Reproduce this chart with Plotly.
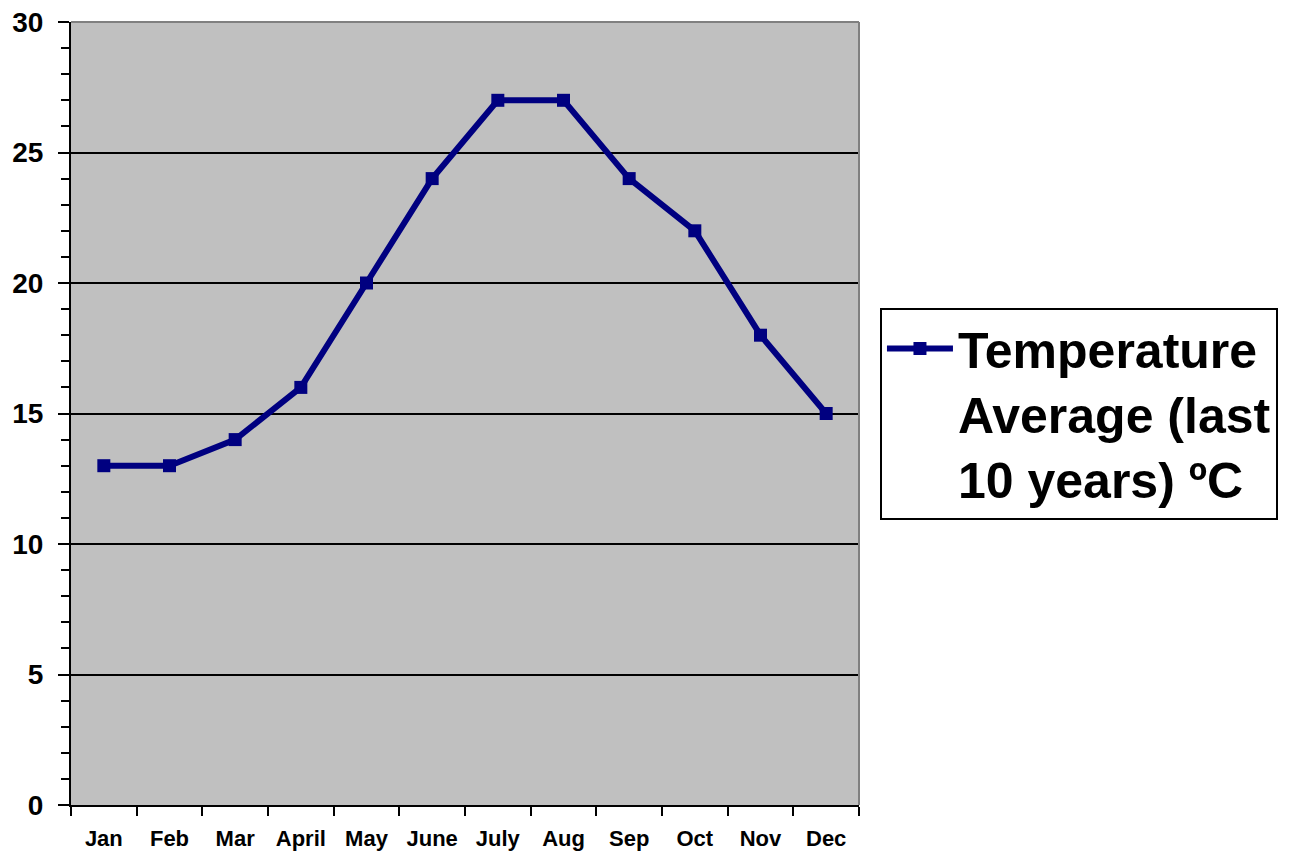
import plotly.graph_objects as go

months = ["Jan", "Feb", "Mar", "April", "May", "June", "July", "Aug", "Sep", "Oct", "Nov", "Dec"]
temps = [13, 13, 14, 16, 20, 24, 27, 27, 24, 22, 18, 15]
series_name = "Temperature<br>Average (last<br>10 years) ºC"

FONT = "Arial, Liberation Sans, sans-serif"

fig = go.Figure()
fig.add_trace(go.Scatter(
    x=months, y=temps, name=series_name, mode="lines+markers",
    line=dict(color="#000080", width=6),
    marker=dict(symbol="square", size=13, color="#000080"),
    showlegend=True,
))

fig.update_layout(
    width=1281, height=846,
    margin=dict(l=63, r=429, t=14, b=49),
    paper_bgcolor="white", plot_bgcolor="#C0C0C0",
    font=dict(family=FONT, color="black"),
    showlegend=True,
    legend=dict(
        x=1.0253, y=0.5, xanchor="left", yanchor="middle",
        bordercolor="black", borderwidth=2, bgcolor="white",
        font=dict(family=FONT, size=50, color="black", weight="bold"),
        itemwidth=66, tracegroupgap=0, valign="top",
    ),
    xaxis=dict(
        type="category", tickson="boundaries", ticks="outside", ticklen=9,
        tickwidth=2, tickcolor="black", showline=True, linecolor="black", linewidth=2,
        showgrid=False, tickfont=dict(size=22, weight="bold", family=FONT),
        range=[-0.5, 11.5], fixedrange=True, automargin=False, ticklabelstandoff=13,
        ticklabeloverflow="allow",
    ),
    yaxis=dict(
        range=[0, 30], dtick=5, ticks="outside", ticklen=11, tickwidth=2,
        tickcolor="black", showline=True, linecolor="black", linewidth=2,
        showgrid=True, gridcolor="black", gridwidth=2, zeroline=False,
        tickfont=dict(size=28, weight="bold", family=FONT),
        minor=dict(dtick=1, ticks="outside", ticklen=8, tickwidth=2, tickcolor="black", showgrid=False),
        fixedrange=True, automargin=False, ticklabelstandoff=9,
        ticklabeloverflow="allow",
    ),
    shapes=[
        dict(type="line", xref="paper", yref="paper", x0=0, x1=1, y0=1, y1=1,
             line=dict(color="#808080", width=2)),
        dict(type="line", xref="paper", yref="paper", x0=1, x1=1, y0=0, y1=1,
             line=dict(color="#808080", width=2)),
    ],
)

fig.write_html("out.html")
